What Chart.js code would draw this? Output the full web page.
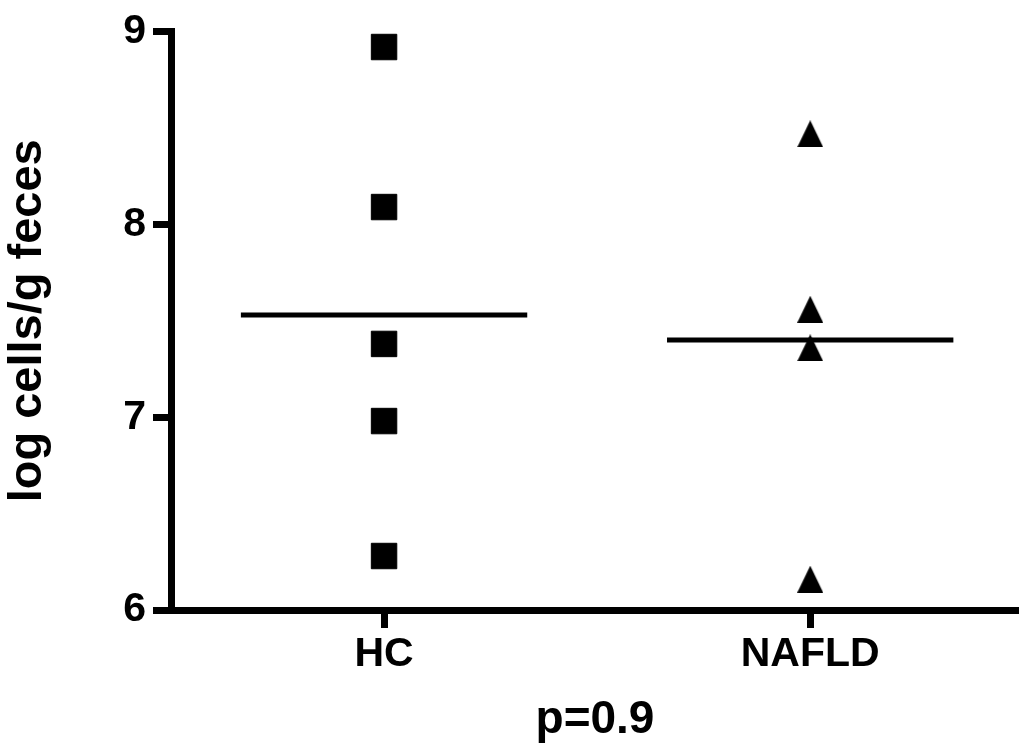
<!DOCTYPE html>
<html>
<head>
<meta charset="utf-8">
<script src="https://cdn.jsdelivr.net/npm/chart.js@4.4.0/dist/chart.umd.min.js"></script>
<style>
  html, body { margin: 0; padding: 0; background: #fff; overflow: hidden; }
  #wrap { width: 1019px; height: 748px; }
</style>
</head>
<body>
<div id="wrap"><canvas id="chart"></canvas></div>
<script>
// ===== DATA =====
const groups = ["HC", "NAFLD"];
const hcValues = [8.92, 8.09, 7.38, 6.98, 6.28];
const nafldValues = [8.47, 7.56, 7.36, 6.16];
const groupMeans = [7.53, 7.40];
const yTicks = [6, 7, 8, 9];
const yTitle = "log cells/g feces";
const pLabel = "p=0.9";

// ===== STYLE =====
const FONT = "'Liberation Sans', Arial, sans-serif";
const MEAN_HALF = 0.336;   // half width of mean bar, in category units
const AXIS_W = 7;

function makeTriangle(w, h) {
  const c = document.createElement("canvas");
  c.width = w;
  c.height = h;
  const g = c.getContext("2d");
  g.fillStyle = "#000";
  g.beginPath();
  g.moveTo(w / 2, 0);
  g.lineTo(w, h);
  g.lineTo(0, h);
  g.closePath();
  g.fill();
  return c;
}

const meanSets = groupMeans.map((m, i) => ({
  data: [{ x: i - MEAN_HALF, y: m }, { x: i + MEAN_HALF, y: m }],
  showLine: true,
  borderColor: "#000",
  borderWidth: 5,
  pointRadius: 0
}));

const ctx = document.getElementById("chart").getContext("2d");
new Chart(ctx, {
  type: "scatter",
  data: {
    datasets: [
      {
        data: hcValues.map(v => ({ x: 0, y: v })),
        pointStyle: "rect",
        pointRadius: 18,
        backgroundColor: "#000",
        borderColor: "#000",
        borderWidth: 1
      },
      {
        data: nafldValues.map(v => ({ x: 1, y: v })),
        pointStyle: makeTriangle(26, 27),
        pointRadius: 14,
        backgroundColor: "#000"
      },
      ...meanSets
    ]
  },
  options: {
    responsive: true,
    maintainAspectRatio: false,
    animation: false,
    layout: { autoPadding: false, padding: { top: 30, right: 0, left: 0, bottom: 0 } },
    plugins: { legend: { display: false }, tooltip: { enabled: false } },
    scales: {
      x: {
        type: "linear",
        min: -0.5,
        max: 1.49,
        afterBuildTicks: s => { s.ticks = groups.map((g, i) => ({ value: i })); },
        afterFit: s => { s.height = 138; },
        ticks: {
          callback: v => groups[v],
          color: "#000",
          font: { family: FONT, size: 41, weight: "bold" },
          padding: 2,
          maxRotation: 0
        },
        grid: {
          drawOnChartArea: false,
          drawTicks: true,
          tickLength: 18,
          tickWidth: AXIS_W,
          tickColor: "#000"
        },
        border: { display: true, color: "#000", width: AXIS_W },
        title: {
          display: true,
          text: pLabel,
          color: "#000",
          font: { family: FONT, size: 46, weight: "bold" },
          padding: { top: 0, bottom: 0 }
        }
      },
      y: {
        min: 6,
        max: 9,
        afterBuildTicks: s => { s.ticks = yTicks.map(v => ({ value: v })); },
        afterFit: s => { s.width = 171; },
        ticks: {
          color: "#000",
          font: { family: FONT, size: 41, weight: "bold" },
          padding: 7
        },
        grid: {
          drawOnChartArea: false,
          drawTicks: true,
          tickLength: 18,
          tickWidth: AXIS_W,
          tickColor: "#000"
        },
        border: { display: true, color: "#000", width: AXIS_W },
        title: {
          display: true,
          text: yTitle,
          color: "#000",
          font: { family: FONT, size: 47, weight: "bold" },
          padding: { top: 0, bottom: 0 }
        }
      }
    }
  }
});
</script>
</body>
</html>
